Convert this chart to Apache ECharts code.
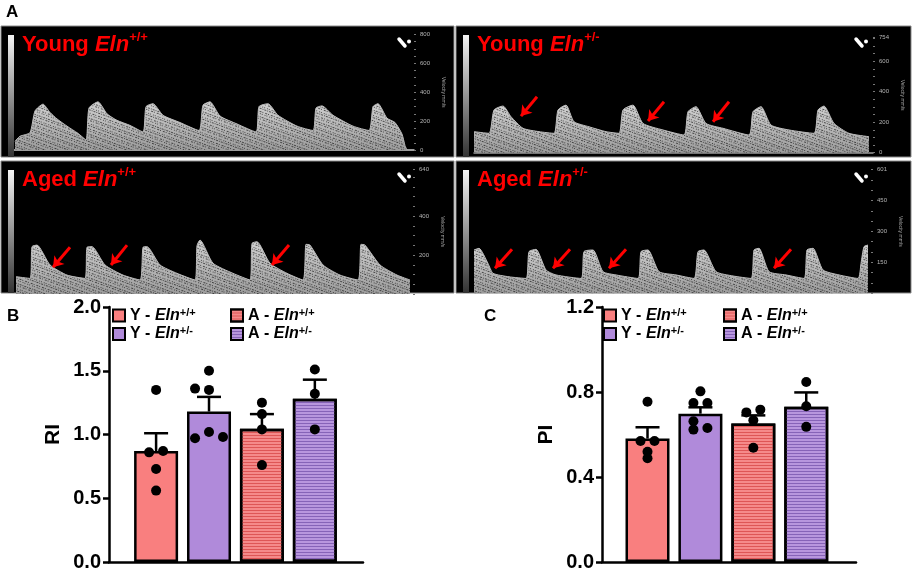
<!DOCTYPE html>
<html>
<head>
<meta charset="utf-8">
<script src="https://cdn.jsdelivr.net/npm/echarts@6/dist/echarts.min.js"></script>
<style>
html, body { margin: 0; padding: 0; background: #fff; }
#chart { width: 913px; height: 572px; }
</style>
</head>
<body>
<div id="chart"></div>
<script>
// ---- panel A: doppler envelopes, [time, velocity mm/s] ----
var waveYoungWT = [[1,60],[6,95],[16,120],[21,270],[29,317],[36,260],[43,215],[53,165],[64,115],[72,70],[75,290],[84,333],[93,250],[103,205],[116,170],[129,125],[132,300],[139,320],[149,240],[166,190],[185,135],[189,310],[196,333],[206,235],[223,180],[242,125],[245,300],[254,320],[264,240],[283,165],[299,135],[302,290],[308,305],[319,240],[339,165],[355,135],[359,300],[364,320],[373,220],[381,190],[388,110],[391,30],[393,0]];
var waveYoungHet = [[0,138],[15,127],[20,280],[29,306],[37,236],[49,160],[65,138],[80,127],[84,280],[92,312],[100,203],[115,170],[132,138],[145,127],[149,280],[159,312],[169,192],[189,149],[210,116],[214,269],[222,302],[232,192],[249,160],[275,116],[279,269],[287,302],[297,181],[315,149],[340,127],[344,280],[350,306],[360,192],[375,127],[395,105]];
var waveAgedWT = [[0,89],[14,80],[16,243],[21,251],[34,149],[51,97],[69,80],[71,240],[76,243],[89,149],[107,97],[124,72],[127,240],[131,243],[144,149],[161,106],[179,72],[181,248],[184,277],[197,158],[217,106],[234,72],[236,260],[241,268],[254,158],[271,106],[287,72],[290,255],[294,251],[307,149],[324,97],[342,72],[345,255],[349,251],[364,149],[381,97],[394,72]];
var waveAgedHet = [[0,210],[5,218],[14,145],[19,97],[35,80],[52,72],[55,202],[62,213],[72,113],[82,89],[107,72],[110,202],[119,210],[129,105],[142,89],[164,72],[167,202],[174,210],[185,105],[202,89],[220,72],[224,202],[230,210],[242,105],[259,84],[277,72],[280,210],[285,218],[295,105],[312,89],[330,72],[333,210],[339,218],[349,113],[365,89],[384,72],[387,145],[390,226],[394,234]];

// red arrows: [tailT, tailV, headT, headV]
var arrowsYoungHet = [[63,367,47,240],[190,334,174,208],[255,334,239,203]];
var arrowsAgedWT = [[54,240,37,137],[111,251,95,149],[273,251,256,149]];
var arrowsAgedHet = [[38,213,21,121],[96,213,79,121],[152,213,135,121],[317,213,300,121]];

// velocity scale of each image
var velMax = [800, 754, 640, 601];
var velLabels = [[0,200,400,600,800], [0,200,400,600,754], [200,400,640], [150,300,450,601]];

// ---- panels B and C ----
var groups = ['Y+/+', 'Y+/-', 'A+/+', 'A+/-'];
var riMean = [0.87, 1.18, 1.045, 1.28];
var riCap = [1.01, 1.295, 1.16, 1.43];
var riPoints = [
  [1.35, 0.86, 0.87, 0.73, 0.56],
  [1.36, 1.50, 1.35, 0.97, 1.02, 0.98],
  [1.25, 1.16, 1.04, 0.76],
  [1.51, 1.32, 1.04]
];
var riSlots = [[0,-1,1,0,0], [-2,0,0,-2,0,2], [0,0,0,0], [0,0,0]];
var piMean = [0.581, 0.698, 0.652, 0.731];
var piCap = [0.634, 0.728, 0.69, 0.798];
var piPoints = [
  [0.754, 0.569, 0.569, 0.519, 0.488],
  [0.803, 0.748, 0.748, 0.662, 0.623, 0.631],
  [0.704, 0.717, 0.667, 0.538],
  [0.847, 0.733, 0.636]
];
var piSlots = [[0,-1,1,0,0], [0,-1,1,-1,-1,1], [-1,1,0,0], [0,0,0]];
var riTicks = [0, 0.5, 1.0, 1.5, 2.0];
var piTicks = [0, 0.4, 0.8, 1.2];

var FONT = '"Liberation Sans", Arial, sans-serif';
var myChart = echarts.init(document.getElementById('chart'));

var fills = [
  { color: '#F97F7F' },
  { color: '#B08ADA' },
  { color: '#F58A8A', decal: { symbol: 'rect', symbolSize: 1, color: '#DE5656', dashArrayX: [1, 0], dashArrayY: [1, 2], rotation: 0 } },
  { color: '#B896DE', decal: { symbol: 'rect', symbolSize: 1, color: '#8663B8', dashArrayX: [1, 0], dashArrayY: [1, 2], rotation: 0 } }
];

// speckle texture for the doppler fill
var speckle = { symbol: 'rect', symbolSize: 1, color: 'rgba(0,0,0,0.6)',
  dashArrayX: [[1, 2, 1, 1], [0, 1, 2, 1, 1, 0], [2, 1, 1, 2]], dashArrayY: [1, 1, 1, 2], rotation: 0.35 };

var panels = [
  { box: [1, 26, 453, 131], grid: { left: 14, top: 34.3, width: 400, height: 115.7 }, wave: waveYoungWT, arrows: [], word: 'Young', gen: '+/+', base: '#cfcfcf' },
  { box: [456, 26, 455, 131], grid: { left: 474, top: 37.7, width: 399, height: 115 }, wave: waveYoungHet, arrows: arrowsYoungHet, word: 'Young', gen: '+/-', base: '#9a9a9a' },
  { box: [1, 161, 453, 132], grid: { left: 16, top: 169.3, width: 397, height: 124.7 }, wave: waveAgedWT, arrows: arrowsAgedWT, word: 'Aged', gen: '+/+', base: null },
  { box: [456, 161, 455, 132], grid: { left: 474, top: 169.3, width: 397, height: 124 }, wave: waveAgedHet, arrows: arrowsAgedHet, word: 'Aged', gen: '+/-', base: null }
];

var grids = [], xAxes = [], yAxes = [], series = [], graphics = [], titles = [];

var redRich = {
  n: { fontFamily: FONT, fontWeight: 'bold', fontSize: 22, color: '#FF0000', lineHeight: 28 },
  i: { fontFamily: FONT, fontWeight: 'bold', fontStyle: 'italic', fontSize: 22, color: '#FF0000', lineHeight: 28 },
  s: { fontFamily: FONT, fontWeight: 'bold', fontSize: 13, color: '#FF0000', lineHeight: 14, verticalAlign: 'top' }
};

panels.forEach(function (p, k) {
  var b = p.box;
  graphics.push({ type: 'rect', z: 0, shape: { x: b[0], y: b[1], width: b[2], height: b[3] },
    style: { fill: '#000', stroke: '#8a8a8a', lineWidth: 1 } });
  graphics.push({ type: 'rect', z: 1, shape: { x: b[0] + 7, y: b[1] + 9, width: 6, height: b[3] - 9 },
    style: { fill: new echarts.graphic.LinearGradient(0, 0, 0, 1, [
      { offset: 0, color: '#f4f4f4' }, { offset: 1, color: '#333' }]) } });
  var ix = b[0] + b[2] - 55, iy = b[1] + 13;
  graphics.push({ type: 'line', z: 1, shape: { x1: ix, y1: iy, x2: ix + 6, y2: iy + 7 },
    style: { stroke: '#fff', lineWidth: 3.5, lineCap: 'round' } });
  graphics.push({ type: 'circle', z: 1, shape: { cx: ix + 10, cy: iy + 2.5, r: 2 }, style: { fill: '#fff' } });

  titles.push({
    text: '{n|' + p.word + ' }{i|Eln}{s|' + p.gen + '}',
    left: b[0] + 21, top: b[1] + 5, padding: 0,
    textStyle: { rich: redRich }
  });

  grids.push(p.grid);
  xAxes.push({ gridIndex: k, type: 'value', min: 0, max: p.grid.width,
    axisLine: { show: !!p.base, lineStyle: { color: p.base || '#000', width: 1.5 } },
    axisTick: { show: false }, axisLabel: { show: false }, splitLine: { show: false } });
  yAxes.push({ gridIndex: k, type: 'value', position: 'right', min: 0, max: velMax[k], interval: 50,
    axisLine: { show: false, onZero: false },
    axisTick: { show: true, length: 2, lineStyle: { color: '#777', width: 1 } },
    axisLabel: { customValues: velLabels[k], fontSize: 6, color: '#b5b5b5', margin: 6, fontFamily: FONT },
    splitLine: { show: false },
    name: 'Velocity mm/s', nameLocation: 'middle', nameRotate: -90, nameGap: 27,
    nameTextStyle: { fontSize: 5, color: '#aaa', fontFamily: FONT } });

  series.push({
    type: 'line', xAxisIndex: k, yAxisIndex: k, data: p.wave, smooth: 0.2, symbol: 'none', z: 2,
    lineStyle: { color: '#bdbdbd', width: 1 },
    itemStyle: { decal: speckle },
    areaStyle: { origin: 'start', opacity: 1, color: new echarts.graphic.LinearGradient(0, 0, 0, 1, [
      { offset: 0, color: '#d2d2d2' }, { offset: 1, color: '#9c9c9c' }]) }
  });
  if (p.arrows.length) {
    series.push({
      type: 'lines', coordinateSystem: 'cartesian2d', xAxisIndex: k, yAxisIndex: k, z: 5,
      symbol: ['none', 'arrow'], symbolSize: 10,
      lineStyle: { color: '#FF0000', width: 3, opacity: 1 },
      data: p.arrows.map(function (a) { return { coords: [[a[0], a[1]], [a[2], a[3]]] }; })
    });
  }
});

// panel letters
[['A', 6, 4], ['B', 7, 308], ['C', 484, 308]].forEach(function (t) {
  titles.push({ text: t[0], left: t[1], top: t[2], padding: 0,
    textStyle: { fontFamily: FONT, fontWeight: 'bold', fontSize: 17, color: '#000' } });
});

// bar charts
function barChart(gi, means, caps, points, slots, ticks, name, box, xmin) {
  var xi = xAxes.length, yi = yAxes.length;
  grids.push(box);
  xAxes.push({ gridIndex: gi, type: 'value', min: xmin, max: xmin + 4.8,
    axisLine: { show: true, onZero: false, lineStyle: { color: '#000', width: 2.5 } },
    axisTick: { show: false }, axisLabel: { show: false }, splitLine: { show: false } });
  yAxes.push({ gridIndex: gi, type: 'value', min: 0, max: ticks[ticks.length - 1], interval: ticks[1] - ticks[0],
    axisLine: { show: true, onZero: false, lineStyle: { color: '#000', width: 2.5 } },
    axisTick: { show: true, length: 6, lineStyle: { color: '#000', width: 2.5 } },
    axisLabel: { fontFamily: FONT, fontWeight: 'bold', fontSize: 20, color: '#000', margin: 8,
      formatter: function (v) { return v.toFixed(1); } },
    splitLine: { show: false },
    name: name, nameLocation: 'middle', nameGap: 45,
    nameTextStyle: { fontFamily: FONT, fontWeight: 'bold', fontSize: 21, color: '#000' } });
  groups.forEach(function (g, i) {
    series.push({ name: g, type: 'bar', xAxisIndex: xi, yAxisIndex: yi, barWidth: 44, barGap: '-100%', z: 2,
      data: [[i, means[i]]],
      itemStyle: Object.assign({ borderColor: '#000', borderWidth: 2.5 }, fills[i]) });
  });
  series.push({ type: 'custom', xAxisIndex: xi, yAxisIndex: yi, z: 3,
    data: means.map(function (m, i) { return [i, m, caps[i]]; }),
    renderItem: function (params, api) {
      var lo = api.coord([api.value(0), api.value(1)]);
      var hi = api.coord([api.value(0), api.value(2)]);
      var st = { stroke: '#000', lineWidth: 2.5 };
      return { type: 'group', children: [
        { type: 'line', shape: { x1: lo[0], y1: lo[1], x2: hi[0], y2: hi[1] }, style: st },
        { type: 'line', shape: { x1: hi[0] - 12, y1: hi[1], x2: hi[0] + 12, y2: hi[1] }, style: st }
      ] };
    } });
  var dots = [];
  points.forEach(function (arr, i) {
    arr.forEach(function (v, j) { dots.push([i + slots[i][j] * 0.132, v]); });
  });
  series.push({ type: 'scatter', xAxisIndex: xi, yAxisIndex: yi, z: 4, symbolSize: 10,
    itemStyle: { color: '#000', opacity: 1 }, data: dots });
}

barChart(4, riMean, riCap, riPoints, riSlots, riTicks, 'RI', { left: 109, top: 307, width: 254, height: 256 }, -0.89);
barChart(5, piMean, piCap, piPoints, piSlots, piTicks, 'PI', { left: 602, top: 307, width: 254, height: 256 }, -0.86);

var legendRich = {
  n: { fontFamily: FONT, fontWeight: 'bold', fontSize: 16, color: '#000', lineHeight: 17 },
  i: { fontFamily: FONT, fontWeight: 'bold', fontStyle: 'italic', fontSize: 16, color: '#000', lineHeight: 17 },
  s: { fontFamily: FONT, fontWeight: 'bold', fontSize: 11, color: '#000', lineHeight: 11, verticalAlign: 'top' }
};
function legendCol(names, left) {
  return { data: names, left: left, top: 307, orient: 'vertical', icon: 'rect',
    itemWidth: 12, itemHeight: 12, itemGap: 2, padding: 0, selectedMode: false,
    itemStyle: { borderColor: '#000', borderWidth: 2 },
    formatter: function (n) { return '{n|' + n.charAt(0) + ' - }{i|Eln}{s|' + n.slice(1) + '}'; },
    textStyle: { rich: legendRich } };
}

var option = {
  animation: false,
  backgroundColor: '#fff',
  title: titles,
  graphic: graphics,
  legend: [legendCol(['Y+/+', 'Y+/-'], 112), legendCol(['A+/+', 'A+/-'], 230),
           legendCol(['Y+/+', 'Y+/-'], 603), legendCol(['A+/+', 'A+/-'], 723)],
  grid: grids,
  xAxis: xAxes,
  yAxis: yAxes,
  series: series
};

myChart.setOption(option);
window.addEventListener('resize', function () { myChart.resize(); });
</script>
</body>
</html>
